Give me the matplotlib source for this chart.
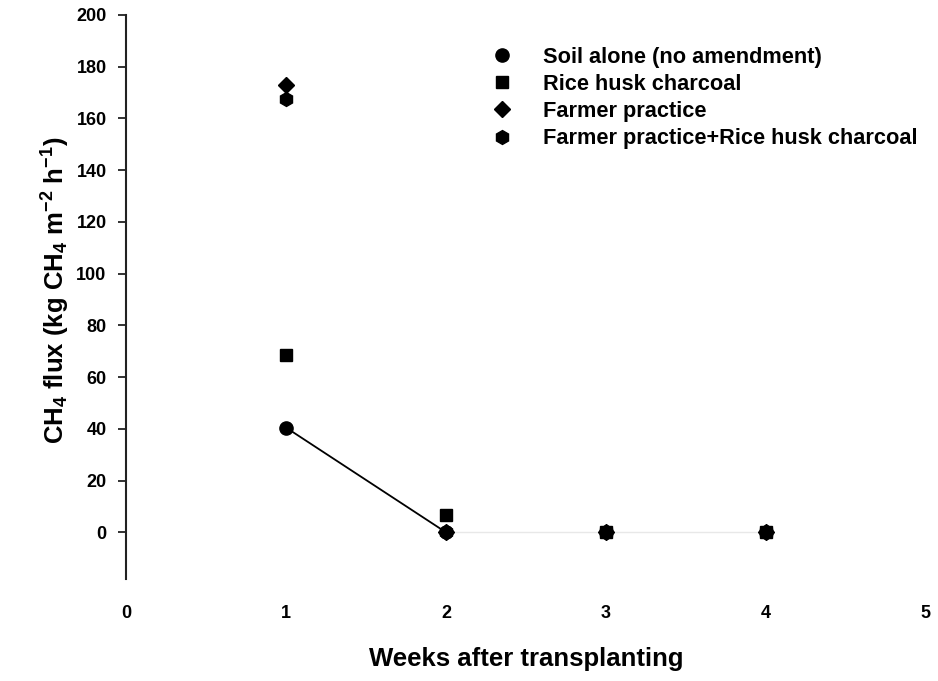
import numpy as np
import matplotlib.pyplot as plt

plt.rcParams['font.family'] = ['Liberation Sans', 'DejaVu Sans']
plt.rcParams['font.weight'] = 'bold'
plt.rcParams['mathtext.fontset'] = 'custom'
plt.rcParams['mathtext.rm'] = 'Liberation Sans:bold'
plt.rcParams['mathtext.it'] = 'Liberation Sans:bold'
plt.rcParams['mathtext.bf'] = 'Liberation Sans:bold'

# weeks after transplanting
weeks = [1, 2, 3, 4]

# CH4 flux per treatment
soil_alone = [40.5, 0.0, 0.0, 0.0]
rice_husk = [68.5, 6.5, 0.0, 0.0]
farmer = [173.0, 0.0, 0.0, 0.0]
farmer_rhc = [167.5, 0.0, 0.0, 0.0]

labels = ["Soil alone (no amendment)", "Rice husk charcoal",
          "Farmer practice", "Farmer practice+Rice husk charcoal"]
yticks = list(range(0, 201, 20))
xticks = [0, 1, 2, 3, 4, 5]

fig = plt.figure(figsize=(9.38, 6.81), dpi=100)
ax = fig.add_axes([0.1343, 0.150, 0.8527, 0.828])

# connecting lines for soil alone
ax.plot(weeks[:2], soil_alone[:2], color="black", linewidth=1.3, zorder=2)
ax.plot(weeks[1:], soil_alone[1:], color="#e8e8e8", linewidth=1.0, zorder=1)

ax.plot(weeks, rice_husk, linestyle="none", marker="s", markersize=9,
        color="black", label=labels[1], zorder=3)
ax.plot(weeks, farmer, linestyle="none", marker="D", markersize=8.5,
        color="black", label=labels[2], zorder=4)
ax.plot(weeks, farmer_rhc, linestyle="none", marker="h", markersize=10,
        color="black", label=labels[3], zorder=5)
ax.plot(weeks, soil_alone, linestyle="none", marker="o", markersize=9.5,
        color="black", label=labels[0], zorder=6)

ax.set_xlim(0, 5)
ax.set_ylim(-18, 200)
ax.set_xticks(xticks)
ax.set_yticks(yticks)

for s in ["top", "right", "bottom"]:
    ax.spines[s].set_visible(False)
ax.spines["left"].set_linewidth(1.5)
ax.spines["left"].set_color("#222222")

ax.tick_params(axis="y", direction="out", length=6, width=1.3,
               labelsize=13, pad=8, color="#222222")
ax.tick_params(axis="x", length=0, labelsize=13, pad=19)

ax.set_xlabel("Weeks after transplanting", fontsize=18.5, fontweight="bold",
              labelpad=18)
ax.set_ylabel("CH$_4$ flux (kg CH$_4$ m$^{-2}$ h$^{-1}$)", fontsize=18.5,
              fontweight="bold", labelpad=4)
ax.yaxis.set_label_coords(-0.068, 0.512)

handles, lbls = ax.get_legend_handles_labels()
order = [3, 0, 1, 2]
leg = ax.legend([handles[i] for i in order], [lbls[i] for i in order],
                loc="upper left", bbox_to_anchor=(0.503, 0.96),
                bbox_transform=fig.transFigure, frameon=False,
                fontsize=15.7, handlelength=1.0, handletextpad=1.35,
                labelspacing=0.28)

fig.savefig("out.png", dpi=100)
